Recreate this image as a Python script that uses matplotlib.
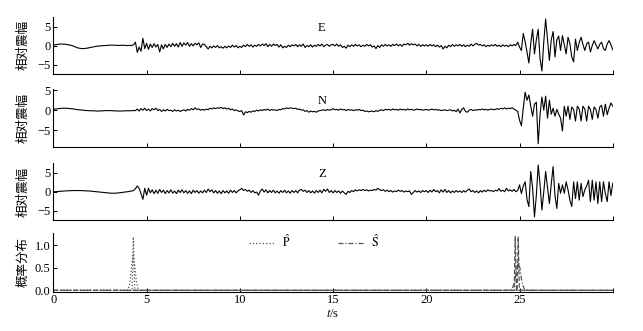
import numpy as np
import matplotlib
matplotlib.use("Agg")
import matplotlib.pyplot as plt

plt.rcParams['font.family'] = ['Liberation Serif', 'Noto Sans CJK SC']
plt.rcParams['mathtext.fontset'] = 'stix'
plt.rcParams['axes.unicode_minus'] = True

# sampling: 0.1 s, 0 .. 30 s
t = np.round(np.arange(301) * 0.1, 1)

amp_e = [
    0.1, 0.2, 0.3, 0.35, 0.4, 0.4, 0.35, 0.3, 0.2, 0.1,
    0.0, -0.2, -0.4, -0.6, -0.7, -0.8, -0.8, -0.75, -0.7, -0.6,
    -0.5, -0.4, -0.3, -0.2, -0.15, -0.1, -0.05, 0.0, 0.0, 0.05,
    0.1, 0.1, 0.1, 0.1, 0.05, 0.05, 0.05, 0.1, 0.05, 0.0,
    0.0, 0.05, 0.0, 0.2, 0.9, -1.8, -0.4, -1.5, 1.9, -0.8,
    0.6, -1.0, 0.4, -0.5, 0.5, -0.4, 0.3, -1.7, 0.2, -0.9,
    0.3, -0.5, 0.4, -0.3, 0.6, -0.2, 0.5, -0.4, 0.8, -0.2,
    0.7, 0.1, 0.8, -0.2, 0.5, -0.1, 0.6, 0.2, 0.7, -0.5,
    0.4, 0.3, -0.3, -0.9, -0.2, -0.6, -0.1, -0.5, 0.0, -0.6,
    -0.3, -0.7, -0.2, -0.6, -0.1, -0.5, 0.1, -0.4, 0.0, -0.6,
    -0.2, -0.5, 0.1, -0.3, 0.3, -0.2, 0.2, -0.4, 0.1, -0.2,
    0.3, -0.1, 0.4, 0.0, 0.5, -0.3, 0.3, -0.2, 0.4, 0.0,
    0.3, -0.4, 0.2, -0.6, -0.2, -0.5, 0.1, -0.3, 0.2, -0.1,
    0.3, -0.3, 0.2, -0.2, 0.4, -0.5, 0.0, -0.3, 0.2, -0.4,
    0.1, -0.2, 0.3, -0.1, 0.4, -0.3, 0.1, 0.3, -0.2, 0.2,
    0.3, -0.1, 0.4, -0.2, 0.2, -0.5, -0.2, -0.7, 0.1, -0.3,
    0.2, -0.2, 0.3, -0.1, 0.2, -0.3, 0.1, -0.2, 0.3, -0.1,
    0.2, -0.4, -0.1, -0.8, 0.0, -0.5, 0.2, -0.2, 0.3, -0.1,
    0.2, -0.2, 0.3, 0.0, 0.4, -0.1, 0.3, -0.2, 0.4, 0.2,
    0.6, 0.1, 0.5, 0.2, 0.4, -0.1, 0.3, -0.2, 0.2, -0.1,
    0.2, -0.2, 0.3, -0.1, 0.2, -0.3, 0.1, -0.4, 0.0, -0.9,
    -0.2, -0.6, 0.1, -0.3, 0.3, -0.2, 0.2, -0.1, 0.3, -0.2,
    0.2, -0.3, 0.1, -0.2, 0.4, -0.1, 0.3, 0.6, 0.1, 0.3,
    -0.1, 0.2, -0.3, 0.1, -0.2, 0.2, -0.1, 0.3, -0.2, 0.1,
    -0.3, 0.2, -0.2, 0.1, -0.3, 0.2, -0.1, 0.3, 0.0, 0.9,
    -0.4, -1.3, 3.2, 1.0, -1.7, -4.6, 0.5, 4.3, -2.2, 1.5,
    4.3, -3.5, -6.7, 1.0, 7.0, 1.5, -3.9, 1.5, 3.7, -3.0,
    1.5, 2.5, -1.3, 2.6, 0.2, -2.2, 2.2, 0.5, -3.0, -4.3,
    1.7, -1.3, 0.8, 2.2, 0.3, -1.3, 0.5, 0.9, -1.7, 0.0,
    1.3, 0.2, -0.9, 0.3, 0.9, -0.8, -1.3, 0.4, 1.3, 0.2,
    -1.1,
]

amp_n = [
    0.2, 0.3, 0.35, 0.4, 0.45, 0.5, 0.5, 0.5, 0.45, 0.4,
    0.35, 0.3, 0.2, 0.15, 0.1, 0.05, 0.0, -0.05, -0.1, -0.1,
    -0.15, -0.15, -0.15, -0.2, -0.2, -0.2, -0.15, -0.15, -0.1, -0.1,
    -0.1, -0.1, -0.15, -0.15, -0.2, -0.2, -0.2, -0.2, -0.15, -0.15,
    -0.15, -0.15, -0.1, -0.1, -0.1, 0.3, -0.2, 0.4, 0.0, 0.5,
    -0.1, 0.3, -0.2, 0.4, 0.1, 0.5, -0.1, 0.2, -0.3, 0.1,
    -0.2, 0.2, -0.1, 0.0, -0.3, 0.1, -0.2, 0.0, -0.3, -0.1,
    0.1, -0.2, 0.2, 0.0, 0.4, 0.1, 0.6, 0.2, 0.3, 0.0,
    0.2, 0.0, 0.3, 0.1, 0.5, 0.3, 0.6, 0.4, 0.6, 0.5,
    0.7, 0.4, 0.6, 0.3, 0.5, 0.1, 0.3, -0.1, 0.1, -0.2,
    -0.3, -0.1, -1.2, -0.4, -0.6, -0.3, -0.5, -0.2, -0.3, 0.0,
    -0.2, 0.1, -0.1, 0.2, 0.0, 0.3, -0.1, 0.2, 0.0, 0.1,
    -0.1, 0.2, 0.1, 0.4, 0.3, 0.6, 0.4, 0.6, 0.5, 0.4,
    0.5, 0.2, 0.3, 0.0, 0.1, -0.3, -0.1, -0.5, -0.2, -0.4,
    -0.3, -0.5, -0.2, -0.1, 0.0, 0.1, -0.1, 0.2, 0.0, 0.1,
    0.4, 0.1, 0.2, 0.0, 0.3, 0.1, 0.2, -0.1, 0.2, 0.0,
    0.1, -0.1, 0.1, 0.0, 0.2, -0.1, 0.0, -0.3, -0.2, -0.4,
    -0.3, -0.2, -0.4, -0.1, -0.3, 0.0, 0.1, -0.1, 0.2, 0.1,
    0.2, 0.0, 0.3, 0.1, 0.2, 0.0, 0.3, 0.1, 0.2, 0.0,
    0.3, 0.1, 0.2, 0.0, 0.1, 0.3, 0.1, 0.2, 0.0, 0.1,
    0.2, 0.0, 0.1, 0.3, 0.1, 0.2, 0.0, 0.1, -0.1, 0.0,
    0.1, -0.1, 0.0, 0.1, -0.2, 0.0, -0.4, 0.3, -0.7, 0.2,
    0.6, -0.3, -0.5, 0.0, 0.2, -0.1, 0.1, 0.0, 0.2, 0.1,
    0.3, 0.1, 0.2, 0.0, 0.2, 0.3, 0.1, 0.2, 0.4, 0.2,
    0.5, 0.3, 0.6, 0.3, 0.5, 0.4, 0.6, 0.3, 0.0, -0.3,
    -2.5, -3.9, 0.5, 4.5, 2.5, 3.8, 1.0, -1.5, 1.5, 2.0,
    -8.4, -1.0, 3.3, 0.0, 3.5, -2.0, 2.5, -1.0, 0.5, -1.5,
    0.2, -1.0, -2.0, -5.2, 1.0, -1.5, 1.0, -2.3, 0.8, 0.2,
    -2.7, 1.0, 0.3, -2.7, 1.0, 0.3, -2.7, 1.0, 0.2, -2.3,
    0.8, 0.2, -2.0, 0.8, 1.2, -1.5, 1.5, -1.1, 0.5, 1.8,
    1.0,
]

amp_z = [
    0.0, 0.0, 0.05, 0.1, 0.1, 0.15, 0.2, 0.2, 0.25, 0.25,
    0.3, 0.3, 0.3, 0.3, 0.3, 0.3, 0.25, 0.25, 0.2, 0.2,
    0.15, 0.1, 0.05, 0.0, -0.05, -0.1, -0.15, -0.2, -0.25, -0.3,
    -0.35, -0.4, -0.4, -0.4, -0.35, -0.3, -0.25, -0.2, -0.1, -0.05,
    0.0, 0.1, 0.2, 0.3, 0.8, 1.5, 0.9, -0.5, -2.0, 0.9,
    -0.9, 0.9, -0.3, 0.5, -0.5, 0.4, -0.4, 0.6, -0.2, 0.4,
    -0.5, 0.3, -0.3, 0.5, -0.4, 0.2, -0.5, 0.4, -0.2, 0.5,
    -0.3, 0.3, -0.4, 0.2, -0.5, 0.4, -0.2, 0.3, -0.4, 0.2,
    -0.3, 0.4, -0.2, 0.7, 0.0, 0.5, -0.3, 0.3, -0.4, 0.2,
    -0.5, 0.3, -0.3, 0.2, -0.4, 0.4, -0.2, 0.3, -0.3, 0.2,
    0.5, 0.9, 0.3, 0.6, 0.1, 0.4, -0.2, 0.3, -0.3, -0.1,
    -0.9, 0.2, 0.7, -0.1, 0.5, -0.3, 0.3, -0.2, 0.4, -0.3,
    0.2, -0.4, 0.3, -0.2, 0.4, -0.3, 0.2, -0.4, 0.3, -0.2,
    0.3, -0.3, 0.4, 0.6, 0.1, 0.4, -0.2, 0.3, -0.3, 0.2,
    -0.4, 0.3, -0.2, 0.4, -0.3, 0.6, 0.1, 0.7, -0.2, 0.3,
    -0.3, 0.3, -0.2, 0.2, -0.4, 0.2, -0.3, -0.7, 0.1, -0.2,
    0.3, 0.0, 0.5, 0.2, 0.5, 0.3, 0.6, 0.3, 0.5, 0.2,
    0.4, 0.3, 0.6, 0.4, 0.9, 0.5, 0.3, 0.5, 0.1, 0.4,
    0.0, 0.3, -0.1, 0.2, 0.0, 0.4, 0.1, 0.3, -0.1, 0.2,
    0.0, 0.2, -0.7, -0.2, 0.3, -0.1, 0.2, -0.2, 0.3, 0.0,
    0.3, -0.2, 0.4, -0.1, 0.6, 0.0, 0.3, -0.3, 0.5, -0.1,
    0.6, -0.2, 0.3, -0.3, 0.2, -0.2, 0.3, -0.1, 0.2, -0.2,
    0.3, -0.1, 0.4, 0.7, 0.0, 0.3, -0.2, 0.2, -0.3, 0.3,
    -0.1, 0.4, 0.0, 0.5, 0.2, 0.3, 0.0, 0.4, 0.2, 0.8,
    0.1, 0.4, 0.0, 0.9, 0.2, 0.5, 0.1, 0.6, 0.0, 0.3,
    1.8, -0.5, 1.5, 2.6, -2.0, -3.9, 5.3, 1.0, -6.6, -1.0,
    7.0, 2.0, -4.8, 0.0, 5.3, 1.0, -3.1, 2.0, 6.6, -1.0,
    -4.4, 2.2, -0.4, 1.8, -0.4, 2.6, 0.5, -2.2, -3.9, 2.6,
    -1.8, 2.6, -2.2, 2.2, -1.3, 0.5, 1.5, 3.0, -2.6, 3.0,
    -2.2, 2.6, -3.1, 2.6, -2.6, 2.6, -0.5, -2.6, 2.6, -1.0,
    2.2,
]

# probability curves (time, value)
p_label_t = [0.0, 4.22, 4.29, 4.36, 30.0]
p_label = [0.0, 0.0, 1.18, 0.0, 0.0]
p_pred_t = [0.0, 3.9, 4.0, 4.1, 4.2, 4.27, 4.35, 4.45, 4.55, 4.65, 30.0]
p_pred = [0.0, 0.0, 0.02, 0.15, 0.55, 0.78, 0.6, 0.2, 0.03, 0.0, 0.0]
s_label_t = [0.0, 24.71, 24.77, 24.83, 24.87, 24.93, 24.99, 30.0]
s_label = [0.0, 0.0, 1.19, 0.0, 0.0, 1.19, 0.0, 0.0]
s_pred_t = [0.0, 24.45, 24.6, 24.75, 24.85, 24.93, 25.02, 25.12, 25.25, 25.35, 30.0]
s_pred = [0.0, 0.0, 0.03, 0.2, 0.5, 0.62, 0.5, 0.2, 0.03, 0.0, 0.0]

channels = ['E', 'N', 'Z']
traces = [amp_e, amp_n, amp_z]
ylims = [(-7.5, 7.6), (-9.2, 5.3), (-7.5, 7.6)]
xticks = [0, 5, 10, 15, 20, 25, 30]
xticklabels = ['0', '5', '10', '15', '20', '25', '']

fig = plt.figure(figsize=(6.43, 3.31), dpi=100)
left, width = 0.083, 0.87
boxes = [(0.7764, 0.1731), (0.5559, 0.1752), (0.3344, 0.174), (0.1187, 0.1773)]
axes = [fig.add_axes([left, b, width, h]) for b, h in boxes]

def style(ax):
    for s in ['top', 'right']:
        ax.spines[s].set_visible(False)
    ax.spines['left'].set_linewidth(0.8)
    ax.spines['bottom'].set_linewidth(0.8)
    ax.tick_params(direction='in', length=3, width=0.7, labelsize=9, pad=2)
    ax.set_xlim(0, 30)
    ax.set_xticks(xticks)

for ax, name, tr, yl in zip(axes[:3], channels, traces, ylims):
    ax.plot(t, tr, color='black', lw=0.8)
    style(ax)
    ax.set_ylim(*yl)
    ax.set_yticks([-5, 0, 5])
    ax.set_xticklabels([])
    ax.set_ylabel('相对震幅', fontsize=9)
    ax.yaxis.set_label_coords(-0.043, 0.5)
    ax.text(0.48, 0.8, name, transform=ax.transAxes, fontsize=9,
            ha='center', va='center')

ax = axes[3]
gray = '#555555'
dashdot = (0, (4, 1.5, 1, 1.5))
ax.plot(p_label_t, p_label, color=gray, lw=0.9, ls=':')
lp, = ax.plot(p_pred_t, p_pred, color=gray, lw=0.9, ls=':')
ax.plot(s_label_t, s_label, color=gray, lw=0.9, ls='--')
ls_, = ax.plot(s_pred_t, s_pred, color=gray, lw=0.9, ls=dashdot)
style(ax)
ax.set_ylim(-0.03, 1.27)
ax.set_yticks([0, 0.5, 1.0])
ax.set_yticklabels(['0.0', '0.5', '1.0'])
ax.set_xticklabels(xticklabels)
ax.set_ylabel('概率分布', fontsize=9)
ax.yaxis.set_label_coords(-0.043, 0.5)
ax.set_xlabel('$t$/s', fontsize=9, labelpad=1)
ax.legend([lp, ls_], [r'$\hat{\mathrm{P}}$', r'$\hat{\mathrm{S}}$'], ncol=2,
          frameon=False, fontsize=8.5, loc='center', bbox_to_anchor=(0.466, 0.85),
          handlelength=2.2, columnspacing=4, handletextpad=0.6)

fig.savefig('out.png', dpi=100)
